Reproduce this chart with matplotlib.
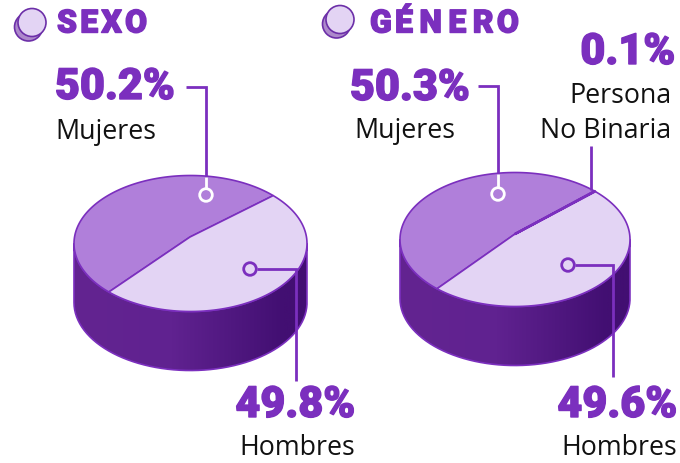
import numpy as np
import matplotlib
matplotlib.use('Agg')
import matplotlib.pyplot as plt
from matplotlib.patches import Circle, PathPatch, Polygon
from matplotlib.path import Path
from matplotlib.colors import LinearSegmentedColormap
import matplotlib.patheffects as pe

# Datos
sexo_labels = ['Mujeres', 'Hombres']
sexo_values = [50.2, 49.8]
genero_labels = ['Mujeres', 'Persona\nNo Binaria', 'Hombres']
genero_values = [50.3, 0.1, 49.6]

PURPLE = '#7b2fbe'
LIGHT = '#e3d4f4'
MID = '#b07fda'
BODY = 'Open Sans'
HEAD = 'Roboto'

side_cmap = LinearSegmentedColormap.from_list(
    'side', [(0, '#632491'), (0.42, '#602290'), (0.9, '#420f72'), (1, '#420f72')])

fig = plt.figure(figsize=(6.8, 4.64), dpi=100)
ax = fig.add_axes([0, 0, 1, 1])
ax.set_xlim(0, 680)
ax.set_ylim(464, 0)
ax.axis('off')


def arc(cx, cy, rx, ry, a0, a1, n=120):
    t = np.radians(np.linspace(a0, a1, n))
    return np.column_stack([cx + rx * np.cos(t), cy - ry * np.sin(t)])


def draw_pie(cx, cy, rx, ry, depth, hub, values, colors, start):
    # lateral con degradado
    top = arc(cx, cy, rx, ry, 180, 360)
    bottom = arc(cx, cy + depth, rx, ry, 360, 180)
    side = np.vstack([top, bottom, top[:1]])
    patch = PathPatch(Path(side), fc='none', ec=PURPLE, lw=1.2, zorder=2)
    ax.add_patch(patch)
    im = ax.imshow(np.linspace(0, 1, 256).reshape(1, -1), cmap=side_cmap, aspect='auto',
                   extent=[cx - rx, cx + rx, cy + ry + depth, cy], zorder=1)
    im.set_clip_path(patch)
    ax.set_xlim(0, 680)
    ax.set_ylim(464, 0)

    # rebanadas, en sentido horario desde start
    a = start
    for val, col in zip(values, colors):
        sweep = val / sum(values) * 360
        pts = np.vstack([[hub], arc(cx, cy, rx, ry, a, a - sweep)])
        lw = 1.8 if val < 1 else 1.2
        ax.add_patch(Polygon(pts, closed=True, fc=col, ec=PURPLE, lw=lw, joinstyle='round',
                             zorder=4 if val < 1 else 3))
        a -= sweep


def callout(points, circle):
    xs, ys = zip(*points)
    ax.plot(xs, ys, color=PURPLE, lw=2.0, zorder=5, solid_capstyle='butt', solid_joinstyle='miter')
    if circle is not None:
        ax.add_patch(Circle(circle, 6.3, fc='none', ec=PURPLE, lw=2.0, zorder=6))


def white_callout(x, y0, y1, r=6.3):
    ax.plot([x, x], [y0, y1 - r], color='white', lw=2.0, zorder=5, solid_capstyle='butt')
    ax.add_patch(Circle((x, y1), r, fc='none', ec='white', lw=2.0, zorder=6))


def icon(dx, dy):
    ax.add_patch(Circle((28.5 + dx, 28 + dy), 14, fc='#ad89cb', ec='#6c2fa8', lw=1.2, zorder=2))
    ax.add_patch(Circle((32 + dx, 23.5 + dy), 14, fc=LIGHT, ec='#6c2fa8', lw=1.2, zorder=3))


def pct(x, y, s, ha='left'):
    ax.text(x, y, s, color=PURPLE, fontsize=31, family=HEAD, weight='black', ha=ha, va='baseline',
            path_effects=[pe.withStroke(linewidth=1.0, foreground=PURPLE)], zorder=7)


def lab(x, y, s, ha='left'):
    ax.text(x, y, s, color='#111111', fontsize=19.3, family=BODY, ha=ha, va='baseline', zorder=7)


def title(x, y, s):
    return ax.text(x, y, s, color=PURPLE, fontsize=23, family=HEAD, weight='black', va='baseline',
                   path_effects=[pe.withStroke(linewidth=1.0, foreground=PURPLE)], zorder=7)


# SEXO
icon(0, 0)
title(57, 33.5, '\u200a'.join('SEXO'))
draw_pie(190.5, 244.5, 116.5, 68, 59, (190, 238), sexo_values, [MID, LIGHT], 225.5)
callout([(186, 88), (206, 88), (206, 178)], None)
white_callout(206, 178, 196)
callout([(296, 382), (296, 270), (256.5, 270)], (250, 270))
pct(55, 100, f'{sexo_values[0]}%')
lab(55, 139, sexo_labels[0])
pct(355, 418, f'{sexo_values[1]}%', ha='right')
lab(355, 455, sexo_labels[1], ha='right')

# GENERO
icon(308, -3)
title(370, 33.5, 'G\u200aÉ\u200a\u200aN\u200a\u200aE\u200a\u200aR\u200aO')
draw_pie(515, 240.5, 115, 67, 59, (515, 235), genero_values, [MID, PURPLE, LIGHT], 227.3)
callout([(478, 87), (498, 87), (498, 175)], None)
white_callout(498, 175, 195)
callout([(591, 147), (591, 191)], None)
callout([(613, 378), (613, 266), (574.5, 266)], (568, 266))
pct(350, 101, f'{genero_values[0]}%')
lab(354, 138, genero_labels[0])
pct(675, 65, f'{genero_values[1]}%', ha='right')
lab(671, 103, 'Persona', ha='right')
lab(671, 138, 'No Binaria', ha='right')
pct(677, 418, f'{genero_values[2]}%', ha='right')
lab(677, 455, genero_labels[2], ha='right')

fig.savefig('out.png', dpi=100)
